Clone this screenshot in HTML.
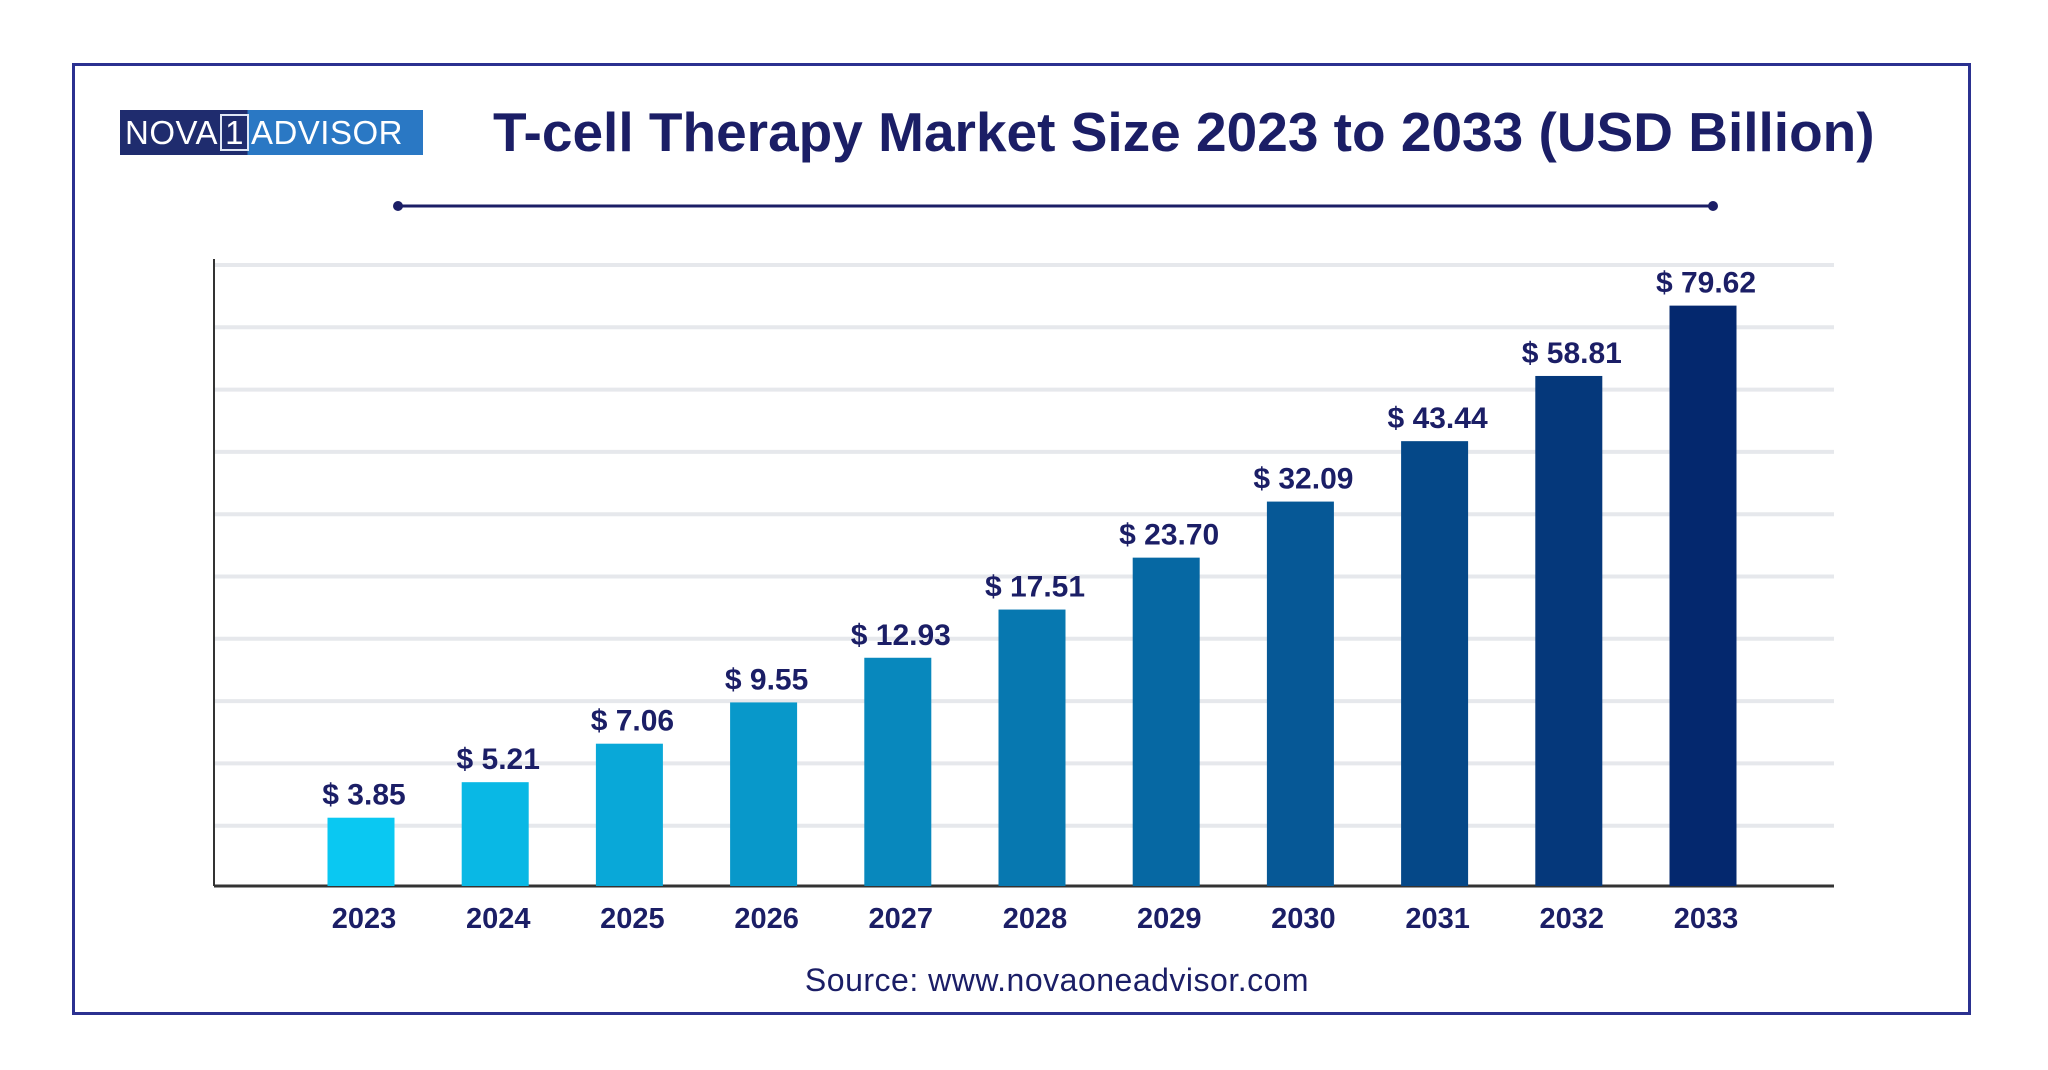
<!DOCTYPE html>
<html><head><meta charset="utf-8"><style>
html,body{margin:0;padding:0;background:#fff;}
body{width:2048px;height:1070px;position:relative;overflow:hidden;font-family:"Liberation Sans",sans-serif;}
</style></head><body>
<div style="position:absolute;left:72px;top:63px;width:1893px;height:946px;border:3px solid #2b3190;"></div>
<div style="position:absolute;left:120px;top:110px;width:303px;height:45px;background:linear-gradient(90deg,#1f2c6e 0%,#1f2c6e 42%,#2a78c4 42%,#2a78c4 100%);color:#fff;font-size:33px;line-height:45px;letter-spacing:0.5px;white-space:nowrap;overflow:hidden;">
<span style="margin-left:5px">NOVA</span><span style="display:inline-block;border:2px solid #dfe6f5;line-height:33px;padding:0 3px;margin:0 2px;">1</span><span>ADVISOR</span></div>
<div style="position:absolute;left:493px;top:100px;font-size:55px;font-weight:bold;color:#1b1e66;white-space:nowrap;">T-cell Therapy Market Size 2023 to 2033 (USD Billion)</div>
<svg style="position:absolute;left:0;top:0" width="2048" height="1070">
<line x1="398" y1="206" x2="1713" y2="206" stroke="#1b1e66" stroke-width="3"/>
<circle cx="398" cy="206" r="5" fill="#1b1e66"/><circle cx="1713" cy="206" r="5" fill="#1b1e66"/>
</svg>
<svg id="chart" style="position:absolute;left:0;top:0" width="2048" height="1070"></svg>
<div style="position:absolute;left:0;width:2114px;text-align:center;top:962px;font-size:32px;letter-spacing:0.5px;color:#1b1e66;">Source: www.novaoneadvisor.com</div>
<script>
const categories=["2023","2024","2025","2026","2027","2028","2029","2030","2031","2032","2033"];
const values=[3.85,5.21,7.06,9.55,12.93,17.51,23.70,32.09,43.44,58.81,79.62];
const labels=["$ 3.85","$ 5.21","$ 7.06","$ 9.55","$ 12.93","$ 17.51","$ 23.70","$ 32.09","$ 43.44","$ 58.81","$ 79.62"];
const NS="http://www.w3.org/2000/svg";
const svgEl=document.getElementById('chart');
const axisY=886, plotLeft=214, plotRight=1834, plotTop=259;
function xPos(i){return 361+i*134.2;}
function yPos(v){return axisY-322.8*(Math.pow(v,0.25)-Math.pow(2,0.25));}
function mk(t,a){const e=document.createElementNS(NS,t);for(const k in a)e.setAttribute(k,a[k]);svgEl.appendChild(e);return e;}
for(let k=0;k<10;k++){const gy=265+k*62.3;
const g=mk('line',{x1:plotLeft,x2:plotRight,y1:gy,y2:gy,stroke:'#e6e8ec','stroke-width':4});

}
const ya=mk('line',{x1:plotLeft,x2:plotLeft,y1:plotTop,y2:axisY,stroke:'#333','stroke-width':2});


const xa=mk('line',{x1:plotLeft,x2:plotRight,y1:axisY,y2:axisY,stroke:'#333','stroke-width':3});


const c0=[10,200,242],c1=[4,40,110];
values.forEach((v,i)=>{
 const t=i/(values.length-1);
 const col='rgb('+c0.map((cc,j)=>Math.round(cc+(c1[j]-cc)*t)).join(',')+')';
 const yt=yPos(v);
 const b=mk('rect',{x:xPos(i)-33.5,y:yt,width:67,height:axisY-yt,fill:col});
 
 
 const l=mk('text',{x:xPos(i)+3,y:yt-13,'text-anchor':'middle','font-size':30,'font-weight':'bold',fill:'#1b1e66','font-family':'Liberation Sans, sans-serif'});
 l.textContent=labels[i];
 
 
 const tk=mk('text',{x:xPos(i)+3,y:928,'text-anchor':'middle','font-size':29,'font-weight':'bold',fill:'#1b1e66','font-family':'Liberation Sans, sans-serif'});
 tk.textContent=categories[i];
 
 
});
</script>
</body></html>
